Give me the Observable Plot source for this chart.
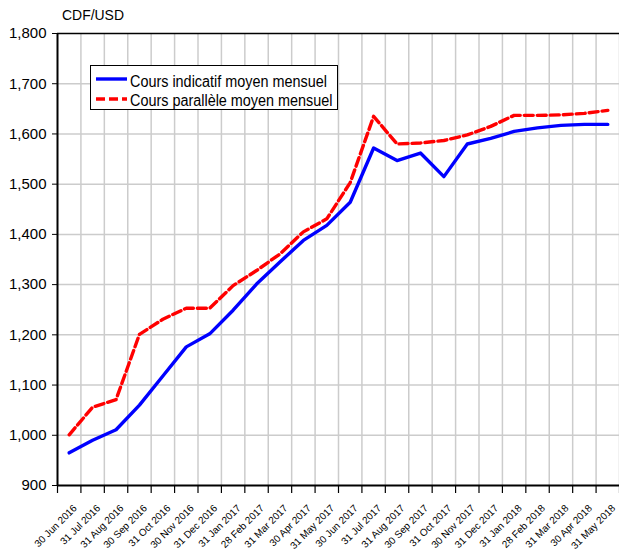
<!DOCTYPE html>
<html>
<head>
<meta charset="utf-8">
<script src="https://cdn.jsdelivr.net/npm/d3@7"></script>
<script src="https://cdn.jsdelivr.net/npm/@observablehq/plot@0.6"></script>
<style>
  html, body { margin: 0; padding: 0; background: #fff; overflow: hidden; }
  #wrap { position: relative; width: 619px; height: 551px; font-family: "Liberation Sans", Arial, sans-serif; }
  #unit { position: absolute; left: 62px; top: 6px; font-size: 15px; line-height: 17px; color: #000; transform: scaleX(0.93); transform-origin: left center; }
  #legend { position: absolute; left: 90px; top: 65px; width: 246px; height: 43px; border: 1.5px solid #000; background: #fff; }
  .swatch { position: absolute; left: 5px; }
  .lab { position: absolute; left: 39px; font-size: 16px; line-height: 18px; white-space: nowrap; transform: scaleX(0.9); transform-origin: left center; }
</style>
</head>
<body>
<div id="wrap">
  <div id="unit">CDF/USD</div>
</div>
<script>
const months = ["30 Jun 2016","31 Jul 2016","31 Aug 2016","30 Sep 2016","31 Oct 2016","30 Nov 2016","31 Dec 2016","31 Jan 2017","28 Feb 2017","31 Mar 2017","30 Apr 2017","31 May 2017","30 Jun 2017","31 Jul 2017","31 Aug 2017","30 Sep 2017","31 Oct 2017","30 Nov 2017","31 Dec 2017","31 Jan 2018","28 Feb 2018","31 Mar 2018","30 Apr 2018","31 May 2018"];
const indicatif = [965, 990, 1011, 1060, 1118, 1176, 1202, 1249, 1301, 1345, 1388, 1418, 1464, 1572, 1547, 1562, 1515, 1580, 1591, 1605, 1612, 1617, 1619, 1619];
const parallele = [1001, 1056, 1071, 1201, 1231, 1253, 1253, 1298, 1328, 1361, 1405, 1431, 1503, 1635, 1580, 1582, 1587, 1598, 1615, 1637, 1637, 1638, 1641, 1647];
const yTicks = [900, 1000, 1100, 1200, 1300, 1400, 1500, 1600, 1700, 1800];
const seriesNames = ["Cours indicatif moyen mensuel", "Cours parallèle moyen mensuel"];

const rowsInd = months.map((m, i) => ({pos: i + 0.5, month: m, value: indicatif[i]}));
const rowsPar = months.map((m, i) => ({pos: i + 0.5, month: m, value: parallele[i]}));
const centers = months.map((m, i) => i + 0.5);
const bounds = d3.range(0, months.length + 1);
const innerBounds = d3.range(1, months.length + 1);

const chart = Plot.plot({
  width: 619,
  height: 551,
  marginLeft: 57,
  marginRight: 0,
  marginTop: 33,
  marginBottom: 66,
  style: {fontFamily: "'Liberation Sans', Arial, sans-serif", background: "#fff", overflow: "visible"},
  x: {type: "linear", domain: [0, months.length], axis: null},
  y: {domain: [900, 1800], axis: null},
  marks: [
    Plot.gridY(yTicks.slice(1, -1), {stroke: "#cccccc", strokeOpacity: 1, strokeWidth: 1.5}),
    Plot.gridX(innerBounds, {stroke: "#cccccc", strokeOpacity: 1, strokeWidth: 1.5}),
    Plot.line(rowsInd, {x: "pos", y: "value", stroke: "#0000ff", strokeWidth: 3.4}),
    Plot.line(rowsPar, {x: "pos", y: "value", stroke: "#ff0000", strokeWidth: 3.4, strokeDasharray: "9,4"}),
    Plot.ruleY([1800], {stroke: "#000", strokeWidth: 1.5}),
    Plot.ruleY([900], {stroke: "#000", strokeWidth: 2}),
    Plot.ruleX([0], {stroke: "#000", strokeWidth: 2}),
    Plot.axisY(yTicks, {tickSize: 5, tickPadding: 6, tickFormat: d3.format(","), fontSize: 15, stroke: "#000", label: null}),
    Plot.axisX(bounds, {tickSize: 8, tickFormat: () => "", stroke: "#000", strokeWidth: 1.2, label: null}),
    Plot.axisX(centers, {tickSize: 0, tickRotate: -45, tickPadding: 0, tickFormat: d => months[Math.round(d - 0.5)], fontSize: 10, dx: 6, dy: 21, label: null})
  ]
});
const wrap = document.getElementById("wrap");
chart.style.position = "absolute";
chart.style.left = "0";
chart.style.top = "0";
wrap.prepend(chart);

const legend = document.createElement("div");
legend.id = "legend";
const styles = [{color: "#0000ff", dash: null, lineTop: 10, textTop: 7.3}, {color: "#ff0000", dash: "9,4", lineTop: 29.5, textTop: 25.7}];
seriesNames.forEach((name, k) => {
  const s = styles[k];
  const sw = document.createElementNS("http://www.w3.org/2000/svg", "svg");
  sw.setAttribute("class", "swatch");
  sw.setAttribute("width", "31");
  sw.setAttribute("height", "6");
  sw.style.top = s.lineTop + "px";
  sw.innerHTML = `<line x1="0" x2="31" y1="3" y2="3" stroke="${s.color}" stroke-width="3.4" ${s.dash ? `stroke-dasharray="${s.dash}"` : ""}/>`;
  legend.appendChild(sw);
  const lab = document.createElement("div");
  lab.className = "lab";
  lab.style.top = s.textTop + "px";
  lab.textContent = name;
  legend.appendChild(lab);
});
wrap.appendChild(legend);
</script>
</body>
</html>
